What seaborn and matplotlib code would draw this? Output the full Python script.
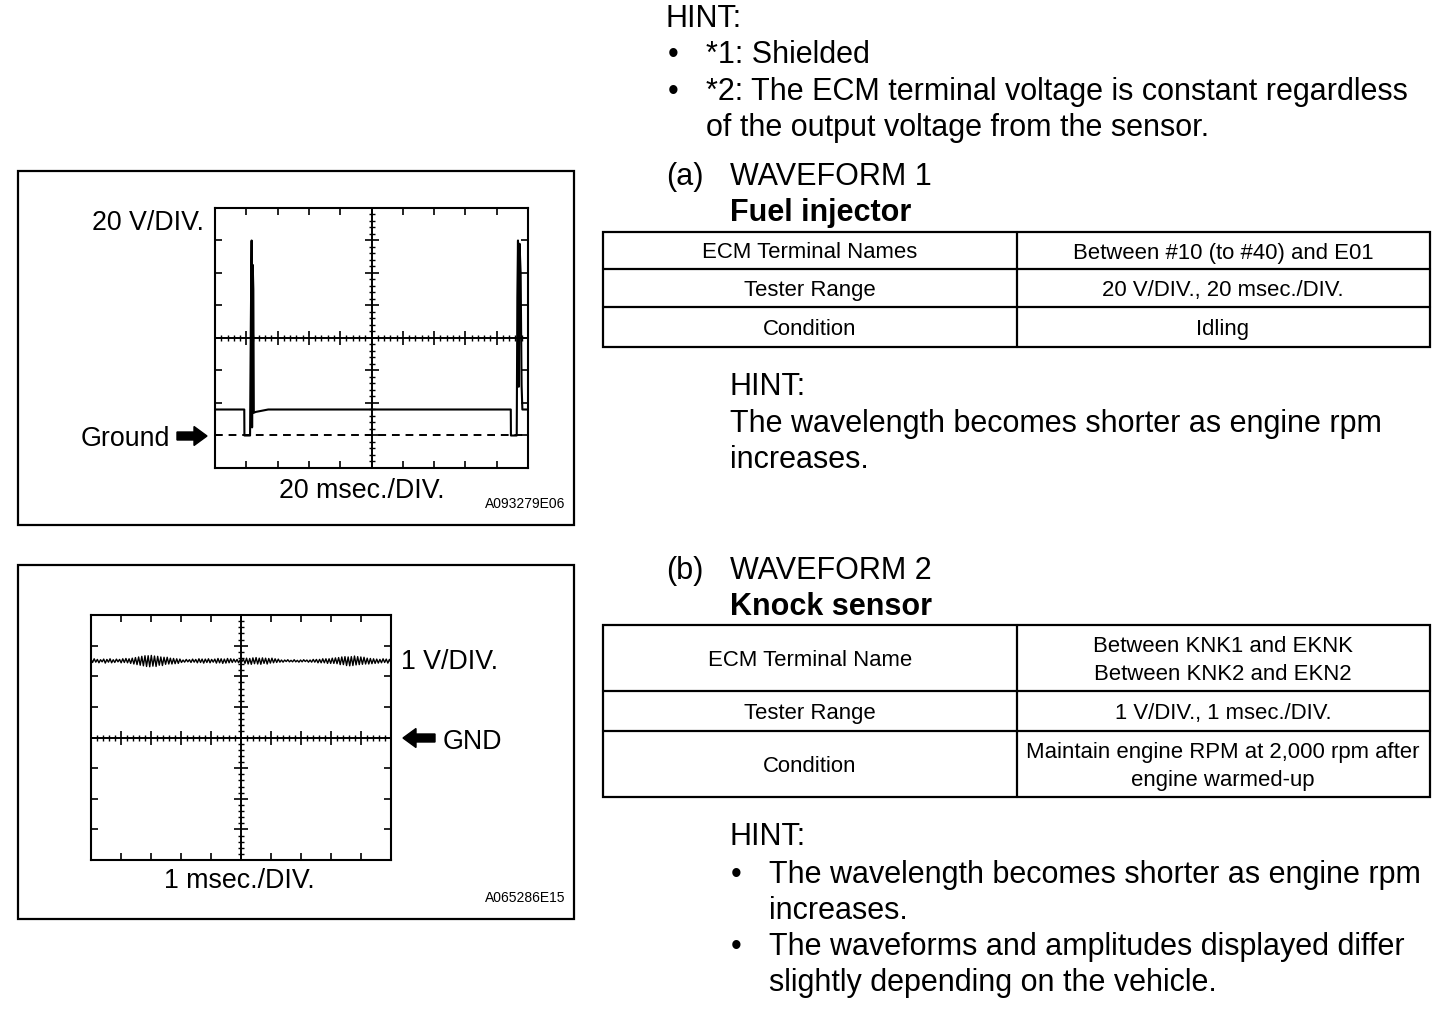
import numpy as np
import matplotlib
matplotlib.use("Agg")
import matplotlib.pyplot as plt
import seaborn as sns
from matplotlib.ticker import MultipleLocator
from matplotlib.patches import Rectangle, FancyArrow

# ---------------- data ----------------
# Waveform 1 (fuel injector): time [ms], voltage [V]
inj_time_ms = [0, 18.7, 18.8, 22.4, 22.9, 23.4, 23.7, 24.1, 24.5, 24.8, 26.0, 34.0,
               189.0, 189.1, 192.8, 193.2, 193.6, 194.1, 194.6, 195.3, 195.9, 196.4, 200]
inj_volt = [16, 16, 0, 0, 70, 120, 5, 105, 90, 14, 14.5, 16,
            16, 0, 0, 85, 120, 30, 118, 100, 31, 16, 16]

# Waveform 2 (knock sensor): deviation around the 2.5 V level, one value per half-cycle
knock_level = 2.5
knock_dev = [
    .06, -.05, .07, -.04, .05, -.06, .04, -.03, .06, -.07, .05, -.04, .07, -.06, .04, -.05,
    .06, -.03, .05, -.06, .07, -.05, .08, -.06, .07,
    -.08, .09, -.10, .11, -.12, .13, -.14, .15, -.16, .17, -.18, .17, -.19, .18, -.17, .16,
    -.18, .15, -.14, .13, -.15, .12, -.11, .12, -.10, .09, -.10, .08, -.09, .07, -.08,
    .06, -.05, .03, -.04, .05, -.03, .04, -.05, .06, -.04, .05, -.06, .07, -.05, .06, -.07,
    .06, -.05, .07, -.06, .05, -.04, .06, -.07, .08, -.06, .07, -.08, .06, -.07, .08, -.06,
    .07, -.05, .06, -.04, .05, -.06, .04, -.03,
    .06, -.08, .09, -.10, .08, -.11, .10, -.09, .11, -.10, .09, -.11, .10, -.08, .09, -.10,
    .08, -.07, .09, -.06, .07, -.05, .06,
    -.04, .03, -.04, .03, -.02, .04, -.03, .02, -.03, .04, -.03, .02, -.04, .03, -.03, .04,
    -.02, .03, -.04, .03, -.04, .05, -.04, .05, -.06, .05, -.06, .07, -.06, .07, -.08, .07,
    -.08, .09, -.08,
    .10, -.09, .11, -.12, .13, -.12, .14, -.15, .13, -.16, .14, -.15, .16, -.13, .14, -.12,
    .13, -.11, .12, -.10, .09, -.10, .08, -.09, .07,
    -.08, .06, -.07, .05, -.06, .07, -.05, .06, -.07, .05, -.06,
]

hint_top = ["*1: Shielded", "*2: The ECM terminal voltage is constant regardless",
            "of the output voltage from the sensor."]
tbl1_labels = ["ECM Terminal Names", "Tester Range", "Condition"]
tbl1_values = ["Between #10 (to #40) and E01", "20 V/DIV., 20 msec./DIV.", "Idling"]
tbl2_labels = ["ECM Terminal Name", "Tester Range", "Condition"]
tbl2_values = ["Between KNK1 and EKNK\nBetween KNK2 and EKN2", "1 V/DIV., 1 msec./DIV.",
               "Maintain engine RPM at 2,000 rpm after\nengine warmed-up"]
hint_a = ["The wavelength becomes shorter as engine rpm", "increases."]
hint_b = [["The wavelength becomes shorter as engine rpm", "increases."],
          ["The waveforms and amplitudes displayed differ", "slightly depending on the vehicle."]]

# ---------------- style ----------------
sns.set_style("white")
plt.rcParams["font.family"] = ["Liberation Sans", "DejaVu Sans"]
plt.rcParams["axes.edgecolor"] = "black"
plt.rcParams["xtick.color"] = "black"
plt.rcParams["ytick.color"] = "black"
plt.rcParams["text.color"] = "black"

W, H = 1456, 1030
fig = plt.figure(figsize=(W / 100, H / 100), dpi=100)
fig.patch.set_facecolor("white")

def rect(x0, y0, x1, y1):
    return [x0 / W, 1 - y1 / H, (x1 - x0) / W, (y1 - y0) / H]

# background pixel-coordinate axes for frames, text and tables
bg = fig.add_axes([0, 0, 1, 1])
bg.set_xlim(0, W)
bg.set_ylim(H, 0)
bg.axis("off")

MAIN = 22
LAB = 19.3
TAB = 15.9
SMALL = 10

# ---- frames ----
for (x0, y0, x1, y1) in [(18, 171, 574, 525), (18, 565, 574, 919)]:
    bg.add_patch(Rectangle((x0, y0), x1 - x0, y1 - y0, fill=False, lw=1.6, ec="black"))

def scope_axes(r, xlim, ylim, xdiv, ydiv, xc, yc):
    ax = fig.add_axes(r)
    ax.set_xlim(*xlim)
    ax.set_ylim(*ylim)
    ax.set_facecolor("none")
    for s in ax.spines.values():
        s.set_visible(True)
        s.set_linewidth(1.5)
        s.set_color("black")
    ax.xaxis.set_major_locator(MultipleLocator(xdiv))
    ax.yaxis.set_major_locator(MultipleLocator(ydiv))
    ax.tick_params(which="major", direction="in", length=5, width=1.2,
                   bottom=True, top=True, left=True, right=True,
                   labelbottom=False, labelleft=False)
    # graticule center cross
    ac = fig.add_axes(r)
    ac.set_xlim(*xlim)
    ac.set_ylim(*ylim)
    ac.patch.set_visible(False)
    ac.spines["top"].set_visible(False)
    ac.spines["right"].set_visible(False)
    ac.spines["left"].set_position(("data", xc))
    ac.spines["bottom"].set_position(("data", yc))
    for k in ("left", "bottom"):
        ac.spines[k].set_linewidth(1.4)
        ac.spines[k].set_color("black")
    ac.xaxis.set_major_locator(MultipleLocator(xdiv))
    ac.yaxis.set_major_locator(MultipleLocator(ydiv))
    ac.xaxis.set_minor_locator(MultipleLocator(xdiv / 5))
    ac.yaxis.set_minor_locator(MultipleLocator(ydiv / 5))
    ac.tick_params(which="major", direction="inout", length=10, width=1.2,
                   bottom=True, left=True, labelbottom=False, labelleft=False)
    ac.tick_params(which="minor", direction="inout", length=5, width=1.0,
                   bottom=True, left=True)
    return ax

# ---- waveform 1 ----
ax1 = scope_axes(rect(215, 208, 528, 468), (0, 200), (-20, 140), 20, 20, 100, 60)
sns.lineplot(x=inj_time_ms, y=inj_volt, ax=ax1, sort=False, estimator=None,
             color="black", lw=1.5)
ax1.axhline(0, color="black", lw=1.4, ls=(0, (4, 3)))
ax1.set_xlabel("")
ax1.set_ylabel("")

bg.text(204, 230, "20 V/DIV.", fontsize=LAB, ha="right", va="baseline")
bg.text(81, 446, "Ground", fontsize=LAB, ha="left", va="baseline")
bg.add_patch(FancyArrow(177, 436, 30, 0, width=8, head_width=19, head_length=13,
                        length_includes_head=True, color="black"))
bg.text(362, 498, "20 msec./DIV.", fontsize=LAB, ha="center", va="baseline")
bg.text(565, 508, "A093279E06", fontsize=SMALL, ha="right", va="baseline")

# ---- waveform 2 ----
ax2 = scope_axes(rect(91, 615, 391, 860), (0, 10), (-4, 4), 1, 1, 5, 0)
knock_t = np.linspace(0, 10, len(knock_dev))
knock_v = knock_level + np.array(knock_dev)
sns.lineplot(x=knock_t, y=knock_v, ax=ax2, sort=False, estimator=None,
             color="black", lw=1.0)
ax2.set_xlabel("")
ax2.set_ylabel("")

bg.text(401, 669, "1 V/DIV.", fontsize=LAB, ha="left", va="baseline")
bg.add_patch(FancyArrow(435, 738, -32, 0, width=8, head_width=19, head_length=13,
                        length_includes_head=True, color="black"))
bg.text(443, 749, "GND", fontsize=LAB, ha="left", va="baseline")
bg.text(239, 888, "1 msec./DIV.", fontsize=LAB, ha="center", va="baseline")
bg.text(565, 902, "A065286E15", fontsize=SMALL, ha="right", va="baseline")

# ---- right-hand text ----
bg.text(666, 27, "HINT:", fontsize=MAIN, va="baseline")
bg.text(668, 63, "•", fontsize=MAIN, va="baseline")
bg.text(706, 63, hint_top[0], fontsize=MAIN, va="baseline")
bg.text(668, 100, "•", fontsize=MAIN, va="baseline")
bg.text(706, 100, hint_top[1], fontsize=MAIN, va="baseline")
bg.text(706, 136, hint_top[2], fontsize=MAIN, va="baseline")

bg.text(666, 185, "(a)", fontsize=MAIN, va="baseline")
bg.text(730, 185, "WAVEFORM 1", fontsize=MAIN, va="baseline")
bg.text(730, 221, "Fuel injector", fontsize=MAIN, va="baseline", fontweight="bold")

def draw_table(rows_y, labels, values):
    x0, xm, x1 = 603, 1017, 1430
    bg.add_patch(Rectangle((x0, rows_y[0]), x1 - x0, rows_y[-1] - rows_y[0],
                           fill=False, lw=1.6, ec="black"))
    for y in rows_y[1:-1]:
        bg.plot([x0, x1], [y, y], color="black", lw=1.6)
    bg.plot([xm, xm], [rows_y[0], rows_y[-1]], color="black", lw=1.6)
    for i in range(len(labels)):
        yc = (rows_y[i] + rows_y[i + 1]) / 2
        for cx, txt in ((810, labels[i]), (1223, values[i])):
            lines = txt.split("\n")
            k = len(lines)
            for j, ln in enumerate(lines):
                yb = yc + 8 + (j - (k - 1) / 2) * 28
                bg.text(cx, yb, ln, fontsize=TAB, ha="center", va="baseline")

draw_table([232, 269, 307, 347], tbl1_labels, tbl1_values)

bg.text(730, 395, "HINT:", fontsize=MAIN, va="baseline")
bg.text(730, 432, hint_a[0], fontsize=MAIN, va="baseline")
bg.text(730, 468, hint_a[1], fontsize=MAIN, va="baseline")

bg.text(666, 579, "(b)", fontsize=MAIN, va="baseline")
bg.text(730, 579, "WAVEFORM 2", fontsize=MAIN, va="baseline")
bg.text(730, 615, "Knock sensor", fontsize=MAIN, va="baseline", fontweight="bold")

draw_table([625, 691, 731, 797], tbl2_labels, tbl2_values)

bg.text(730, 845, "HINT:", fontsize=MAIN, va="baseline")
yb = 883
for item in hint_b:
    bg.text(731, yb, "•", fontsize=MAIN, va="baseline")
    for ln in item:
        bg.text(769, yb, ln, fontsize=MAIN, va="baseline")
        yb += 36

fig.savefig("out.png", dpi=100, facecolor="white")
